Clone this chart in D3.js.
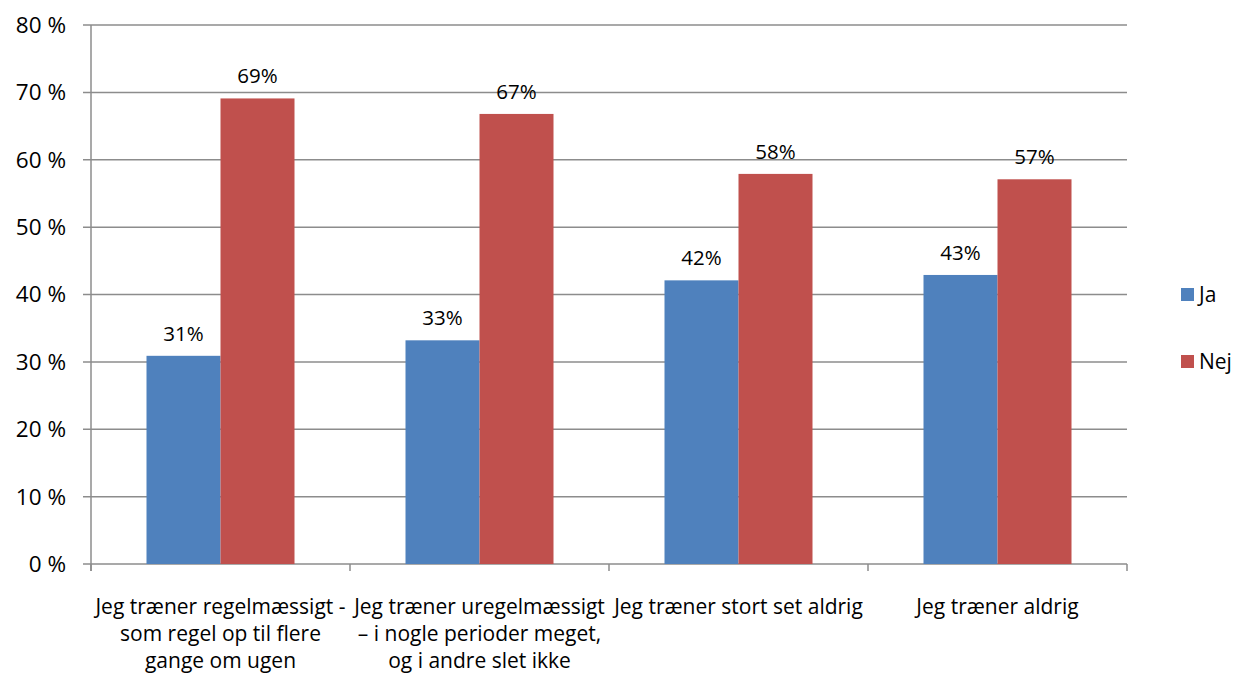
<!DOCTYPE html>
<html><head><meta charset="utf-8">
<script src="https://cdn.jsdelivr.net/npm/d3@7"></script>
<style>body{margin:0;background:#fff}svg{display:block}text{font-family:"Open Sans",Lato,sans-serif;fill:#000}</style>
</head><body><svg id="c" width="1239" height="673"></svg>
<script>
const categories = [
  ["Jeg træner regelmæssigt -","som regel op til flere","gange om ugen"],
  ["Jeg træner uregelmæssigt","– i nogle perioder meget,","og i andre slet ikke"],
  ["Jeg træner stort set aldrig"],
  ["Jeg træner aldrig"]
];
const seriesNames = ["Ja","Nej"];
const jaValues = [30.9, 33.2, 42.1, 42.9];
const nejValues = [69.1, 66.8, 57.9, 57.1];
const yTicks = [0,10,20,30,40,50,60,70,80];
const colors = ["#4F81BD","#C0504D"];

const svg = d3.select("#c");
const L=91, R=1127, T=25, B=564;
const x = d3.scaleBand().domain(d3.range(categories.length)).range([L,R]).padding(0);
const y = d3.scaleLinear().domain([0,80]).range([B,T]);
const inner = d3.scaleBand().domain([0,1]).range([0,x.bandwidth()]).paddingOuter(0.75).paddingInner(0);

svg.append("g").selectAll("line").data(yTicks).join("line")
  .attr("x1",L-8).attr("x2",R).attr("y1",d=>y(d)).attr("y2",d=>y(d))
  .attr("stroke","#8c8c8c").attr("stroke-width",1.5);
svg.append("g").selectAll("text").data(yTicks).join("text")
  .attr("x",66).attr("y",d=>y(d)).attr("dy","0.35em").attr("text-anchor","end")
  .attr("font-size",22.5).text(d=>d+" %");
svg.append("line").attr("x1",L).attr("x2",L).attr("y1",T).attr("y2",B+7).attr("stroke","#8c8c8c").attr("stroke-width",1.5);
svg.append("g").selectAll("line").data(d3.range(categories.length+1)).join("line")
  .attr("x1",d=>L+d*x.bandwidth()).attr("x2",d=>L+d*x.bandwidth()).attr("y1",B).attr("y2",B+7)
  .attr("stroke","#8c8c8c").attr("stroke-width",1.5);

const series=[jaValues,nejValues];
series.forEach((vals,si)=>{
  const g=svg.append("g");
  g.selectAll("rect").data(vals).join("rect")
    .attr("x",(d,i)=>x(i)+inner(si)).attr("width",inner.bandwidth())
    .attr("y",d=>y(d)).attr("height",d=>B-y(d)).attr("fill",colors[si]);
  g.selectAll("text").data(vals).join("text")
    .attr("x",(d,i)=>x(i)+inner(si)+inner.bandwidth()/2).attr("y",d=>y(d)-15)
    .attr("text-anchor","middle").attr("font-size",20.5).text(d=>Math.round(d)+"%");
});
categories.forEach((lines,i)=>{
  const t=svg.append("text").attr("text-anchor","middle").attr("font-size",21);
  lines.forEach((ln,j)=>t.append("tspan").attr("x",x(i)+x.bandwidth()/2).attr("y",614+j*27).text(ln));
});
seriesNames.forEach((n,i)=>{
  const yy=295+i*67;
  svg.append("rect").attr("x",1181).attr("y",yy-7).attr("width",13).attr("height",13).attr("fill",colors[i]);
  svg.append("text").attr("x",1199).attr("y",yy).attr("dy","0.35em").attr("font-size",21).text(n);
});
</script></body></html>
